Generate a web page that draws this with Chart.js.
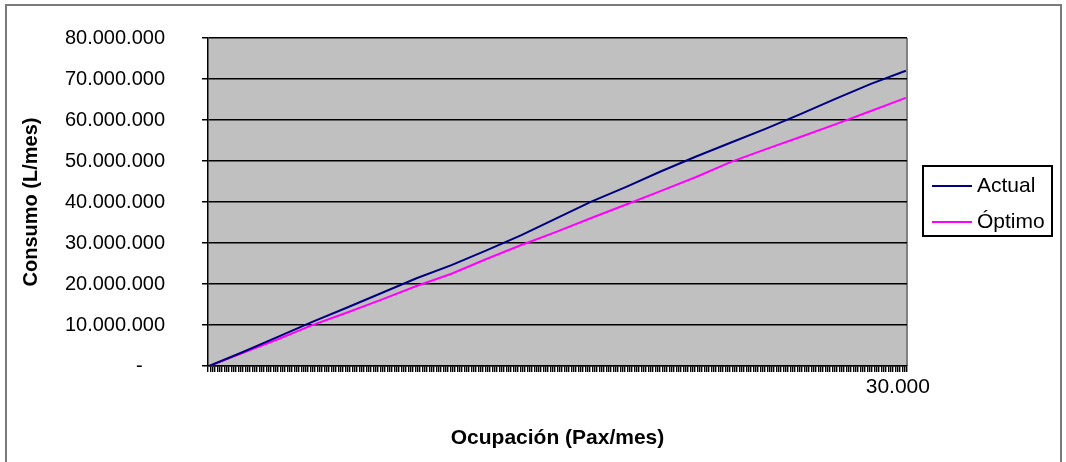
<!DOCTYPE html>
<html>
<head>
<meta charset="utf-8">
<script src="https://cdn.jsdelivr.net/npm/chart.js@4/dist/chart.umd.min.js"></script>
<style>
  html, body { margin: 0; padding: 0; background: #fff; }
  #wrap { position: relative; width: 1066px; height: 462px; overflow: hidden; }
  #frame { position: absolute; left: 5px; top: 4px; width: 1057px; height: 470px; border: 2px solid #7a7a7a; box-sizing: border-box; }
  canvas { position: absolute; left: 0; top: 0; }
</style>
</head>
<body>
<div id="wrap">
  <div id="frame"></div>
  <canvas id="c" width="1066" height="462"></canvas>
</div>
<script>
// Categories: occupation (Pax/mes), one per 100 pax
const categories = Array.from({ length: 300 }, (_, i) => (i + 1) * 100);

// Readings (millions of L/mes)
const readingPax = [100, 1500, 3000, 4500, 6000, 7500, 9000, 10500, 12000, 13500, 15000,
                    16500, 18000, 19500, 21000, 22500, 24000, 25500, 27000, 28500, 30000];
const actualM = [0, 3.3, 7.0, 10.7, 14.2, 17.8, 21.4, 24.6, 28.2, 31.9, 36.0,
                 40.1, 43.7, 47.5, 51.1, 54.5, 57.9, 61.5, 65.2, 68.8, 72.0];
const optimoM = [0, 3.1, 6.4, 9.9, 13.0, 16.2, 19.5, 22.5, 26.1, 29.5, 32.7,
                 36.1, 39.4, 42.7, 46.1, 49.8, 52.9, 55.9, 59.0, 62.2, 65.4];

const seriesNames = ['Actual', 'Óptimo'];
const yTicksMax = 80000000;
const yTickStep = 10000000;

function fmtThousands(n) {
  return String(Math.round(n)).replace(/\B(?=(\d{3})+(?!\d))/g, '.');
}

const FONT = "'Liberation Sans', Arial, sans-serif";

const bgPlugin = {
  id: 'plotBg',
  beforeDraw(chart) {
    const { ctx, chartArea: a } = chart;
    ctx.save();
    ctx.fillStyle = '#c0c0c0';
    ctx.fillRect(a.left, a.top, a.right - a.left, a.bottom - a.top);
    ctx.strokeStyle = '#808080';
    ctx.lineWidth = 2;
    ctx.beginPath();
    ctx.moveTo(a.right, a.top);
    ctx.lineTo(a.right, a.bottom);
    ctx.stroke();
    ctx.restore();
  }
};

const legendPlugin = {
  id: 'boxLegend',
  afterDraw(chart) {
    const { ctx } = chart;
    const bx = 923, by = 166, bw = 129, bh = 70;
    ctx.save();
    ctx.fillStyle = '#fff';
    ctx.fillRect(bx, by, bw, bh);
    ctx.strokeStyle = '#000';
    ctx.lineWidth = 2;
    ctx.strokeRect(bx, by, bw, bh);
    ctx.font = "21px " + FONT;
    ctx.textBaseline = 'middle';
    ctx.textAlign = 'left';
    chart.data.datasets.forEach((ds, i) => {
      const y = by + 20 + i * 36;
      ctx.strokeStyle = ds.borderColor;
      ctx.lineWidth = 2;
      ctx.beginPath();
      ctx.moveTo(bx + 9, y);
      ctx.lineTo(bx + 49, y);
      ctx.stroke();
      ctx.fillStyle = '#000';
      ctx.fillText(ds.label, bx + 54, y);
    });
    ctx.restore();
  }
};

new Chart(document.getElementById('c'), {
  type: 'line',
  data: {
    labels: categories,
    datasets: [
      {
        label: seriesNames[0],
        data: readingPax.map((p, i) => ({ x: p, y: actualM[i] * 1e6 })),
        borderColor: '#000080',
        borderWidth: 2,
        pointRadius: 0,
        tension: 0,
        fill: false
      },
      {
        label: seriesNames[1],
        data: readingPax.map((p, i) => ({ x: p, y: optimoM[i] * 1e6 })),
        borderColor: '#ff00ff',
        borderWidth: 2,
        pointRadius: 0,
        tension: 0,
        fill: false
      }
    ]
  },
  options: {
    responsive: false,
    animation: false,
    devicePixelRatio: 1,
    layout: { padding: { left: 0, right: 159, top: 38, bottom: 0 } },
    plugins: {
      legend: { display: false },
      tooltip: { enabled: false }
    },
    scales: {
      x: {
        type: 'category',
        offset: true,
        afterFit(s) { s.height = 96; },
        grid: {
          offset: true,
          drawOnChartArea: false,
          drawTicks: true,
          tickLength: 6,
          color: '#000',
          lineWidth: 1.4
        },
        border: { color: '#000', width: 1.5 },
        ticks: {
          autoSkip: false,
          maxRotation: 0,
          minRotation: 0,
          padding: 3,
          labelOffset: -8,
          color: '#000',
          font: { family: FONT, size: 21 },
          callback: (v, i) => (i === categories.length - 1 ? fmtThousands(categories[i]) : '')
        },
        title: {
          display: true,
          text: 'Ocupación (Pax/mes)',
          color: '#000',
          font: { family: FONT, size: 21, weight: 'bold' },
          padding: { top: 0, bottom: 11 }
        }
      },
      y: {
        min: 0,
        max: yTicksMax,
        afterFit(s) { s.width = 208; s.paddingTop = 12; s.paddingBottom = 12; },
        grid: {
          color: '#000',
          lineWidth: 1.5,
          drawTicks: true,
          tickLength: 6
        },
        border: { color: '#000', width: 1.5 },
        ticks: {
          stepSize: yTickStep,
          padding: 37,
          color: '#000',
          font: { family: FONT, size: 20 },
          callback: (v) => (v === 0 ? '-    ' : fmtThousands(v))
        },
        title: {
          display: true,
          text: 'Consumo (L/mes)',
          color: '#000',
          font: { family: FONT, size: 20, weight: 'bold' },
          padding: { top: 19, bottom: 0 }
        }
      }
    }
  },
  plugins: [bgPlugin, legendPlugin]
});
</script>
</body>
</html>
